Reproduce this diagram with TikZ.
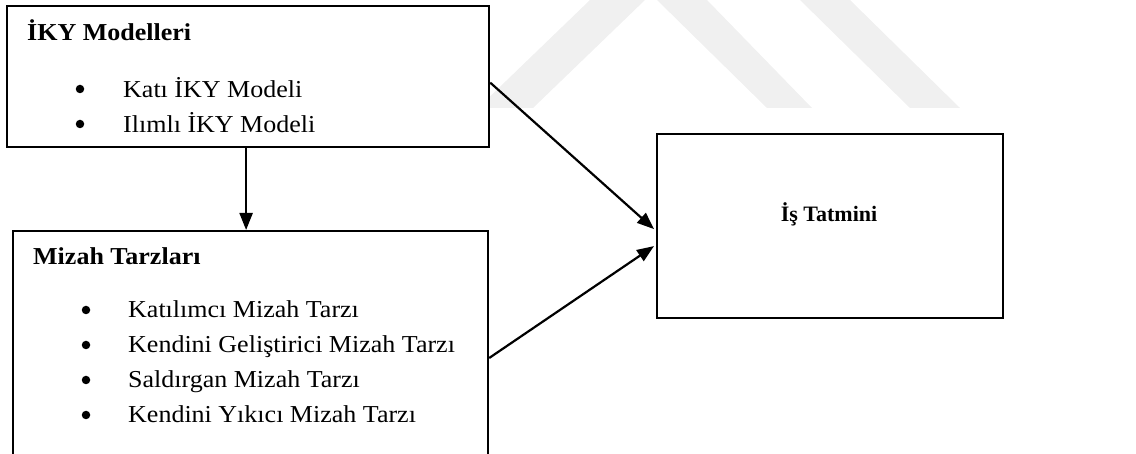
\documentclass[tikz,border=0pt]{standalone}
\usepackage{fontspec}
\usepackage{graphicx}
\setmainfont{Liberation Serif}
\usetikzlibrary{arrows.meta}

% slightly widened lettering used inside the two left boxes
\newcommand{\wide}[1]{\scalebox{1.07}[1]{#1}}

\begin{document}
\begin{tikzpicture}[x=1pt,y=-1pt,
  box/.style={draw, line width=2.2pt, fill=white, inner sep=0pt},
  title/.style={anchor=base west, inner sep=0pt, font=\fontsize{24.3}{26}\selectfont\bfseries},
  item/.style={anchor=base west, inner sep=0pt, font=\fontsize{24.3}{26}\selectfont},
  bul/.style={circle, fill=black, inner sep=0pt, minimum size=8.5pt},
  link/.style={line width=2.2pt, -{Triangle[length=17pt,width=13pt]}},
  wm/.style={fill=black!6, draw=none}]
\useasboundingbox (0,0) rectangle (1136,454);

% faint background bands
\fill[wm] (590,0) -- (645,0) -- (533,108) -- (478,108) -- cycle;
\fill[wm] (657,0) -- (707,0) -- (812,108) -- (767,108) -- cycle;
\fill[wm] (800,0) -- (850,0) -- (960,108) -- (910,108) -- cycle;

% boxes
\node[box, anchor=north west, minimum width=482pt, minimum height=141pt] (b1) at (6,5) {};
\node[box, anchor=north west, minimum width=475pt, minimum height=232pt] (b2) at (12,230) {};
\node[box, anchor=north west, minimum width=346pt, minimum height=184pt] (b3) at (656,133) {};

% first box contents
\node[title] (t1) at (27,41) {\wide{İKY Modelleri}};
\node[bul] (d11) at (80,89) {};
\node[item] (i11) at (123,98) {\wide{Katı İKY Modeli}};
\node[bul] (d12) at (80,124) {};
\node[item] (i12) at (123,133) {\wide{Ilımlı İKY Modeli}};

% second box contents
\node[title] (t2) at (33,265) {\wide{Mizah Tarzları}};
\node[bul] (d21) at (86,310) {};
\node[item] (i21) at (128,318) {\wide{Katılımcı Mizah Tarzı}};
\node[bul] (d22) at (86,345) {};
\node[item] (i22) at (128,353) {\wide{Kendini Geliştirici Mizah Tarzı}};
\node[bul] (d23) at (86,380) {};
\node[item] (i23) at (128,388) {\wide{Saldırgan Mizah Tarzı}};
\node[bul] (d24) at (86,415) {};
\node[item] (i24) at (128,423) {\wide{Kendini Yıkıcı Mizah Tarzı}};

% outcome box
\node[anchor=base, inner sep=0pt, font=\fontsize{22}{24}\selectfont\bfseries] (t3) at (829,222) {İş Tatmini};

% connectors
\draw[link] ([xshift=-2pt]b1.south) -- ([xshift=-2pt]b1.south |- b2.north);
\draw[link] ([yshift=-6pt]b1.east) -- ([xshift=-2pt,yshift=-3pt]b3.west);
\draw[link] ([yshift=-128pt]b2.north east) -- ([xshift=-2pt,yshift=-20pt]b3.west);
\end{tikzpicture}
\end{document}
